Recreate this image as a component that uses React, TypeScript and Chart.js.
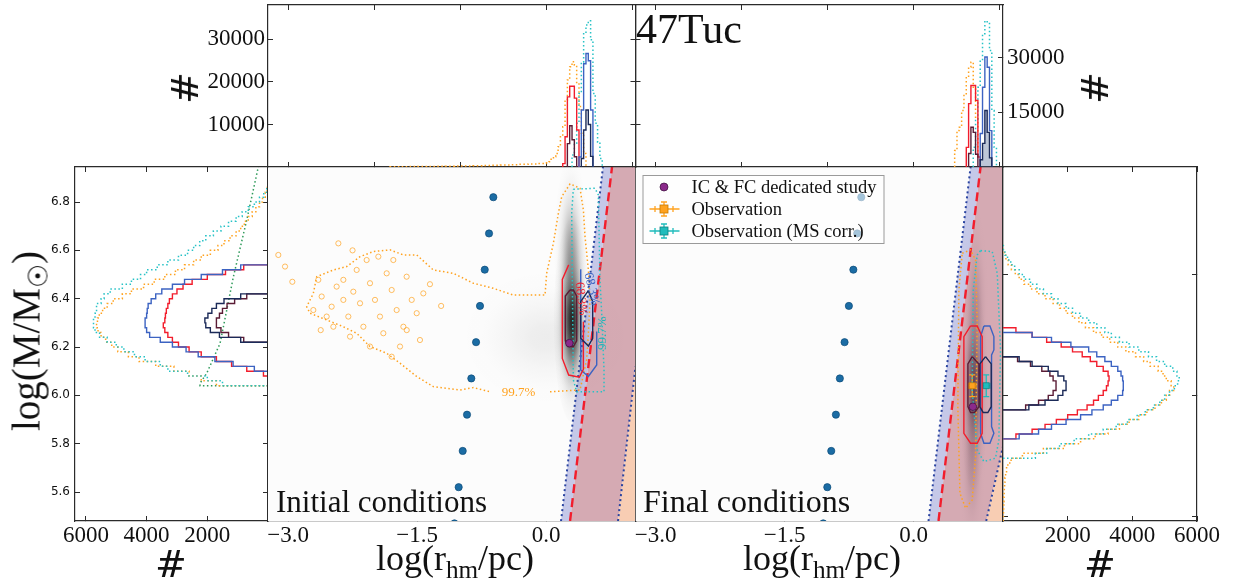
import React, { useEffect, useRef } from "react";
import { Chart, registerables } from "chart.js";

Chart.register(...registerables);

const W = 1239;
const H = 585;
const SERIF = "'Liberation Serif', 'DejaVu Serif', serif";
const SANS = "'DejaVu Sans', sans-serif";

/* ================= axis ranges & ticks ================= */
const rhmRange = [-3.233, 1.04];
const logMRange = [5.48, 6.945];
const topLRange = [0, 38100];
const topRRange = [0, 44500];
const sideLRange = [0, 6360];
const sideRRange = [0, 6000];

const rhmLabelTicks = [-3.0, -1.5, 0.0];
const rhmUnitTicks = [-3, -2, -1, 0, 1];
const logMFineTicks = [5.6, 5.8, 6.0, 6.2, 6.4, 6.6, 6.8];
const logMCoarseTicks = [5.5, 6.0, 6.5];
const topLTicks = [10000, 20000, 30000];
const topRTicks = [15000, 30000];
const sideCountTicks = [2000, 4000, 6000];

/* ================= top histograms: counts per bin of log(r_hm) ================= */
const histBinW = 0.027;
const topLOrangeTailStart = -1.814;
const topLOrangeTailW = 0.107;
const topLOrangeTail = [60, 80, 100, 120, 140, 170, 200, 230, 260, 300, 350, 400, 460, 530, 620, 720, 850];
const topLOrangeStart = 0.005;
const topLOrange = [1000, 1250, 1800, 2430, 3200, 4780, 7140, 9490, 15760, 20470, 23600, 24780, 24000, 19690, 14200, 7920, 3200];
const topLRedStart = 0.194;
const topLRed = [800, 7100, 16500, 19000, 19000, 16200, 8700];
const topLMaroonStart = 0.248;
const topLMaroon = [5500, 9700, 6400, 2400];
const topLCyanStart = 0.302;
const topLCyan = [2800, 5600, 10300, 17300, 24700, 31500, 33400, 34400, 29900, 17300, 10300, 5800, 2000];
const topLBlueStart = 0.383;
const topLBlue = [2350, 13400, 24300, 26700, 25000, 13400];
const topLNavyStart = 0.41;
const topLNavy = [2000, 8700, 13400, 10000, 2500];

const topROrangeStart = 0.478;
const topROrange = [4500, 10000, 10900, 15500, 20100, 24700, 27400, 28800, 21900, 13700, 2900];
const topRRedStart = 0.613;
const topRRed = [5400, 17400, 22400, 22400, 18300, 2750];
const topRMaroonStart = 0.64;
const topRMaroon = [3700, 10900, 9500, 3500];
const topRCyanStart = 0.694;
const topRCyan = [5400, 12800, 21900, 29300, 36600, 40100, 39400, 32000, 15500, 5400];
const topRBlueStart = 0.775;
const topRBlue = [9200, 21900, 30200, 27400, 10000];
const topRNavyStart = 0.775;
const topRNavy = [2000, 6500, 15500, 9500, 2500];

/* ================= side histograms: counts per bin of log(M) ================= */
const sideBinW = 0.02;
const sideLOrangeStart = 6.04;
const sideLOrange = [1700, 2200, 2600, 3100, 3700, 4250, 4600, 4950, 5150, 5350, 5500, 5600, 5650, 5620, 5560, 5450, 5300, 5100, 4800, 4500, 4100, 3750, 3400, 3050, 2750, 2450, 2200, 1900, 1650, 1450, 1250, 1050, 900, 780, 650, 520, 400, 280, 180, 90, 30];
const sideLCyanStart = 6.04;
const sideLCyan = [1500, 2000, 2650, 3300, 3550, 4050, 4400, 4750, 5000, 5300, 5550, 5700, 5750, 5750, 5700, 5650, 5650, 5500, 5400, 5200, 4800, 4500, 4200, 4000, 3650, 3300, 2950, 2650, 2450, 2250, 2050, 1800, 1550, 1300, 1050, 850, 650, 450, 280, 140, 40];
const sideLBlueStart = 6.1;
const sideLBlue = [450, 1150, 1750, 2300, 2700, 3150, 3550, 3900, 4000, 4050, 4050, 4000, 3980, 3950, 3850, 3700, 3500, 3150, 2750, 2200, 1500, 900];
const sideLRedStart = 6.08;
const sideLRed = [150, 700, 1200, 1700, 2200, 2600, 2950, 3150, 3300, 3400, 3450, 3400, 3380, 3350, 3300, 3250, 3150, 3000, 2800, 2500, 2000, 1400, 800];
const sideLNavyStart = 6.22;
const sideLNavy = [900, 1600, 1900, 2050, 2080, 1980, 1850, 1700, 1450, 900];
const sideLMaroonStart = 6.22;
const sideLMaroon = [800, 1300, 1550, 1700, 1700, 1600, 1500, 1350, 1100, 700];
const sideLGreenCounts = [250, 320, 700, 1140, 1580, 2020, 2240, 2240, 0];
const sideLGreenLogM = [7.0, 6.945, 6.726, 6.491, 6.215, 6.091, 6.05, 6.04, 6.04];

const sideROrangeStart = 5.48;
const sideROrange = [10, 15, 20, 25, 30, 35, 40, 50, 60, 80, 110, 150, 250, 600, 1250, 1900, 2400, 2850, 3250, 3600, 3900, 4200, 4450, 4700, 4900, 5050, 5150, 5280, 5200, 5050, 4950, 4800, 4550, 4350, 4100, 3800, 3550, 3300, 3050, 2800, 2550, 2350, 2150, 1950, 1750, 1550, 1300, 1050, 850, 650, 500, 380, 260, 160, 90, 40, 10];
const sideRCyanStart = 5.74;
const sideRCyan = [1000, 1350, 1750, 2200, 2650, 3100, 3500, 3850, 4150, 4400, 4650, 4850, 5000, 5150, 5300, 5400, 5450, 5380, 5250, 5000, 4750, 4500, 4200, 3900, 3600, 3350, 3150, 2900, 2650, 2400, 2150, 1950, 1700, 1500, 1250, 1050, 850, 650, 500, 360, 240, 140, 60, 10];
const sideRBlueStart = 5.82;
const sideRBlue = [500, 1100, 1500, 1950, 2400, 2750, 3100, 3350, 3550, 3700, 3720, 3720, 3700, 3650, 3550, 3350, 3150, 2900, 2650, 2100, 1500, 900];
const sideRRedStart = 5.82;
const sideRRed = [400, 900, 1300, 1650, 2000, 2300, 2600, 2800, 2950, 3100, 3200, 3250, 3280, 3250, 3100, 2900, 2700, 2450, 2150, 1800, 1350, 900, 400];
const sideRNavyStart = 5.94;
const sideRNavy = [800, 1300, 1700, 1850, 1950, 1950, 1880, 1700, 1400, 900, 500];
const sideRMaroonStart = 5.94;
const sideRMaroon = [700, 1100, 1400, 1550, 1640, 1640, 1550, 1450, 1200, 850, 450];

/* ================= main panels: grid of models (blue points) ================= */
const gridLogM = [6.82, 6.67, 6.52, 6.37, 6.22, 6.07, 5.92, 5.77, 5.62, 5.47];
const gridRhmIC = [-0.613, -0.663, -0.713, -0.768, -0.814, -0.869, -0.919, -0.969, -1.016, -1.065];
const gridRhmFC = [-0.608, -0.655, -0.7, -0.752, -0.802, -0.857, -0.903, -0.957, -1.003, -1.05];

/* dedicated study (IC and FC) */
const icRhm = [0.271];
const icLogM = [6.216];
const fcRhm = [0.69];
const fcLogM = [5.953];

/* observations */
const obsRhm = [0.682, 0.845];
const obsLogM = [6.04, 6.04];
const obsRhmErr = [0.043, 0.043];
const obsLogMErr = [0.045, 0.045];
const legendLabels = ["IC & FC dedicated study", "Observation", "Observation (MS corr.)"];

/* density limits (lines of constant density) */
const icBlueLoX = [0.174, 0.662];
const icBlueLoY = [5.48, 6.945];
const icRedX = [0.279, 0.767];
const icRedY = [5.48, 6.945];
const icBlueHiX = [0.837, 1.04];
const icBlueHiY = [5.48, 6.12];
const fcBlueLoX = [0.174, 0.663];
const fcBlueLoY = [5.48, 6.945];
const fcRedX = [0.29, 0.779];
const fcRedY = [5.48, 6.945];
const fcBlueHiX = [0.845, 1.047];
const fcBlueHiY = [5.48, 5.8];

/* density maps (gaussian components: centre, spread, amplitude) */
const icBlobX = [0.3, 0.29, 0.0];
const icBlobY = [6.31, 6.6, 6.24];
const icBlobSX = [0.07, 0.065, 0.35];
const icBlobSY = [0.14, 0.13, 0.1];
const icBlobAmp = [0.95, 0.38, 0.07];
const fcBlobX = [0.7, 0.72, 0.68];
const fcBlobY = [6.03, 6.35, 5.72];
const fcBlobSX = [0.055, 0.05, 0.05];
const fcBlobSY = [0.14, 0.14, 0.12];
const fcBlobAmp = [0.66, 0.22, 0.18];

/* contours, initial conditions */
const icRedCX = [0.263, 0.189, 0.189, 0.263, 0.387, 0.434, 0.434];
const icRedCY = [6.54, 6.48, 6.153, 6.084, 6.075, 6.108, 6.305];
const icMaroonCX = [0.279, 0.224, 0.224, 0.255, 0.317, 0.356, 0.356, 0.317, 0.279];
const icMaroonCY = [6.436, 6.411, 6.226, 6.202, 6.202, 6.226, 6.411, 6.436, 6.436];
const icNavyCX = [0.492, 0.403, 0.403, 0.492, 0.542, 0.542, 0.492];
const icNavyCY = [6.433, 6.388, 6.236, 6.204, 6.236, 6.388, 6.433];
const icBlueCX = [0.403, 0.403, 0.492, 0.589, 0.589];
const icBlueCY = [6.522, 6.105, 6.078, 6.126, 6.264];
const icCyanCX = [0.317, 0.569, 0.608, 0.627, 0.647, 0.674, 0.674, 0.356, 0.317, 0.31, 0.298, 0.317];
const icCyanCY = [6.853, 6.857, 6.829, 6.477, 6.339, 6.105, 6.015, 6.015, 6.064, 6.312, 6.753, 6.853];
const icOrangeCX = [0.046, 0.395, 0.472, 0.492, 0.511, 0.492, 0.453, 0.434, 0.395, 0.279, 0.182, 0.143, 0.085, 0.007, -0.012, -0.38, -0.613, -0.845, -1.078, -1.311, -1.504, -1.659, -1.814, -2.008, -2.163, -2.318, -2.473, -2.667, -2.706, -2.783, -2.745, -2.551, -2.357, -2.202, -2.047, -1.853, -1.698, -1.504, -1.311, -1.0, -0.845, -0.652];
const icOrangeCY = [6.015, 6.022, 6.147, 6.257, 6.395, 6.519, 6.657, 6.767, 6.857, 6.875, 6.822, 6.753, 6.629, 6.505, 6.415, 6.415, 6.443, 6.464, 6.505, 6.519, 6.581, 6.581, 6.602, 6.595, 6.574, 6.533, 6.519, 6.491, 6.422, 6.367, 6.34, 6.312, 6.284, 6.257, 6.202, 6.174, 6.133, 6.078, 6.036, 6.022, 6.032, 6.015];
/* small isolated 99.7% islands of the orange cloud */
const icIslandX = [-3.113, -3.035, -2.415, -2.648, -2.706, -2.609, -2.551, -2.493, -2.435, -2.357, -2.299, -2.241, -2.202, -2.163, -2.124, -2.086, -2.047, -1.989, -1.95, -1.931, -1.892, -1.853, -1.795, -1.776, -1.737, -1.698, -1.659, -1.621, -1.562, -1.504, -1.466, -1.427, -2.047, -1.795, -2.357, -2.473, -2.279, -2.95, -1.35, -1.22, -1.62, -2.62, -2.25];
const icIslandY = [6.581, 6.533, 6.629, 6.478, 6.353, 6.409, 6.326, 6.367, 6.45, 6.395, 6.326, 6.429, 6.519, 6.381, 6.284, 6.56, 6.464, 6.395, 6.574, 6.326, 6.257, 6.505, 6.436, 6.56, 6.353, 6.202, 6.284, 6.491, 6.395, 6.34, 6.229, 6.422, 6.202, 6.16, 6.478, 6.284, 6.243, 6.47, 6.46, 6.37, 6.27, 6.27, 6.6];
const icLabelText = ["99.7%", "68.3%", "68.3%", "99.7%"];
const icLabelX = [-0.32, 0.405, 0.53, 0.66];
const icLabelY = [6.012, 6.4, 6.44, 6.257];

/* contours, final conditions */
const fcRedCX = [0.663, 0.74, 0.798, 0.798, 0.74, 0.663, 0.585, 0.585, 0.663];
const fcRedCY = [6.287, 6.287, 6.243, 5.843, 5.802, 5.802, 5.843, 6.243, 6.287];
const fcBlueCX = [0.818, 0.888, 0.934, 0.934, 0.907, 0.907, 0.934, 0.888, 0.818, 0.779, 0.779, 0.818];
const fcBlueCY = [6.287, 6.287, 6.243, 6.188, 6.167, 5.871, 5.843, 5.802, 5.802, 5.843, 6.243, 6.287];
const fcMaroonCX = [0.682, 0.76, 0.76, 0.709, 0.663, 0.632, 0.632, 0.682];
const fcMaroonCY = [6.16, 6.13, 5.953, 5.929, 5.929, 5.953, 6.13, 6.16];
const fcNavyCX = [0.837, 0.903, 0.903, 0.864, 0.81, 0.771, 0.771, 0.837];
const fcNavyCY = [6.16, 6.13, 5.953, 5.929, 5.929, 5.953, 6.13, 6.16];
const fcOrangeCX = [0.566, 0.663, 0.721, 0.74, 0.721, 0.682, 0.605, 0.539, 0.515, 0.527, 0.566];
const fcOrangeCY = [6.588, 6.602, 6.56, 6.298, 5.747, 5.567, 5.533, 5.595, 5.953, 6.436, 6.588];
const fcCyanCX = [0.779, 0.915, 0.973, 1.011, 0.992, 0.953, 0.818, 0.74, 0.682, 0.694, 0.74, 0.779];
const fcCyanCY = [6.599, 6.595, 6.505, 6.188, 5.815, 5.74, 5.726, 5.774, 6.022, 6.436, 6.581, 6.599];

/* ================= styles ================= */
const C_ORANGE = "#ffa21f";
const C_CYAN = "#27c2c6";
const C_RED = "#f21d2c";
const C_BLUE = "#3c63c2";
const C_NAVY = "#1b2a58";
const C_MAROON = "#5a1c35";
const C_GREEN = "#2e9a5a";
const C_PTS = "#1b6ca4";
const C_PURPLE = "#8b2a8b";
const C_DENS = "#2a44a0";
const DOT = [1.5, 2.5];
const BAND_COLORS = ["#c5c8e8", "#d5aab3", "#f8cdb3"];

/* panel boxes in page pixels: [left, top, right, bottom] */
const BOX_TOPL = [268, 5, 635.5, 167];
const BOX_TOPR = [635.5, 5, 1003, 167];
const BOX_SIDEL = [75, 167, 268, 521];
const BOX_MAINL = [268, 167, 635.5, 521];
const BOX_MAINR = [635.5, 167, 1003, 521];
const BOX_SIDER = [1003, 167, 1197, 521];

/* ================= helpers ================= */
const zip = (xs: number[], ys: number[]) => xs.map((x, i) => ({ x, y: ys[i] }));

function steps(segs: any[], alongX: boolean) {
  const P = (b: number, c: number) => (alongX ? { x: b, y: c } : { x: c, y: b });
  const pts: any[] = [P(segs[0].start, 0)];
  segs.forEach((s) => {
    s.counts.forEach((c: number, i: number) => {
      pts.push(P(s.start + i * s.width, c));
      pts.push(P(s.start + (i + 1) * s.width, c));
    });
  });
  const last = segs[segs.length - 1];
  pts.push(P(last.start + last.counts.length * last.width, 0));
  return pts;
}
const seg = (start: number, width: number, counts: number[]) => ({ start, width, counts });

function lineDs(data: any[], color: string, o: any = {}) {
  return {
    data,
    showLine: true,
    borderColor: color,
    backgroundColor: o.bg || "transparent",
    borderWidth: o.w || 1.4,
    borderDash: o.dash || [],
    borderCapStyle: "butt",
    pointRadius: 0,
    pointHoverRadius: 0,
    fill: o.fill || false,
    tension: 0,
    order: o.order === undefined ? 5 : o.order,
  };
}
function pointDs(data: any[], fill: string, edge: string, o: any = {}) {
  return {
    data,
    showLine: false,
    pointRadius: o.r || 3.6,
    pointStyle: o.style || "circle",
    backgroundColor: fill,
    borderColor: edge,
    borderWidth: o.bw === undefined ? 0.7 : o.bw,
    order: o.order === undefined ? 0 : o.order,
  };
}

/* axis: space = pixels reserved for the tick labels outside the frame */
function ax(position: string, range: number[], ticks: number[], o: any = {}) {
  const horiz = position === "top" || position === "bottom";
  const space = o.space || 0;
  return {
    type: "linear",
    position,
    min: range[0],
    max: range[1],
    reverse: !!o.reverse,
    labelSpace: space,
    afterFit: (s: any) => {
      if (horiz) s.height = space;
      else s.width = space;
      s.paddingLeft = 0;
      s.paddingRight = 0;
      s.paddingTop = 0;
      s.paddingBottom = 0;
    },
    afterBuildTicks: (s: any) => {
      s.ticks = ticks.map((v) => ({ value: v }));
    },
    grid: {
      display: true,
      drawOnChartArea: false,
      drawTicks: true,
      tickLength: -5,
      color: "#2b2b2b",
      tickColor: "#2b2b2b",
      tickWidth: 1,
      lineWidth: 1,
    },
    border: { display: true, color: "#2b2b2b", width: 1.2 },
    ticks: {
      display: !!o.labels,
      autoSkip: false,
      maxRotation: 0,
      minRotation: 0,
      padding: o.pad === undefined ? 8 : o.pad,
      color: "#111",
      font: o.font || { family: SERIF, size: 23 },
      callback: (v: number) => (o.fmt ? o.fmt(v) : String(v)),
    },
  };
}
const fmtRhm = (v: number) => (v < 0 ? "\u2212" : "") + Math.abs(v).toFixed(1);
const fmtLogM = (v: number) => v.toFixed(1);

function panelPlugin(extra: any) {
  return {
    id: "panelExtra",
    beforeDatasetsDraw(chart: any) {
      const { ctx, chartArea: a } = chart;
      const sx = chart.scales.x;
      const sy = chart.scales.y;
      const px = (v: number) => sx.getPixelForValue(v);
      const py = (v: number) => sy.getPixelForValue(v);
      ctx.save();
      ctx.beginPath();
      ctx.rect(a.left, a.top, a.right - a.left, a.bottom - a.top);
      ctx.clip();
      if (extra.bg) {
        ctx.fillStyle = extra.bg;
        ctx.fillRect(a.left, a.top, a.right - a.left, a.bottom - a.top);
      }
      if (extra.bands) {
        const { l1, l2, l3 } = extra.bands;
        const yLo = sy.min - 0.2;
        const yHi = sy.max + 0.2;
        const far = sx.max + 5;
        const lx = (L: any, y: number) => L.x[0] + ((y - L.y[0]) * (L.x[1] - L.x[0])) / (L.y[1] - L.y[0]);
        const poly = (pts: number[][], col: string) => {
          ctx.beginPath();
          pts.forEach(([x, y], i) => (i ? ctx.lineTo(px(x), py(y)) : ctx.moveTo(px(x), py(y))));
          ctx.closePath();
          ctx.fillStyle = col;
          ctx.fill();
        };
        poly([[lx(l1, yLo), yLo], [lx(l1, yHi), yHi], [lx(l2, yHi), yHi], [lx(l2, yLo), yLo]], BAND_COLORS[0]);
        poly([[lx(l2, yLo), yLo], [lx(l2, yHi), yHi], [lx(l3, yHi), yHi], [lx(l3, yLo), yLo]], BAND_COLORS[1]);
        poly([[lx(l3, yLo), yLo], [lx(l3, yHi), yHi], [far, yHi], [far, yLo]], BAND_COLORS[2]);
      }
      if (extra.blobs) {
        const b = extra.blobs;
        b.x.forEach((bx: number, i: number) => {
          const cx = px(bx);
          const cy = py(b.y[i]);
          const rx = Math.abs(px(bx + b.sx[i]) - cx);
          const ry = Math.abs(py(b.y[i] + b.sy[i]) - cy);
          ctx.save();
          ctx.translate(cx, cy);
          ctx.scale(rx, ry);
          const g = ctx.createRadialGradient(0, 0, 0, 0, 0, 3);
          for (let k = 0; k <= 12; k++) {
            const r = (k / 12) * 3;
            g.addColorStop(k / 12, `rgba(${b.rgb},${(b.amp[i] * Math.exp((-r * r) / 2)).toFixed(4)})`);
          }
          ctx.fillStyle = g;
          ctx.beginPath();
          ctx.arc(0, 0, 3, 0, Math.PI * 2);
          ctx.fill();
          ctx.restore();
        });
      }
      if (extra.err) {
        const e = extra.err;
        e.x.forEach((ex: number, i: number) => {
          const cx = px(ex);
          const cy = py(e.y[i]);
          const x0 = px(ex - e.xe[i]);
          const x1 = px(ex + e.xe[i]);
          const y0 = py(e.y[i] - e.ye[i]);
          const y1 = py(e.y[i] + e.ye[i]);
          ctx.strokeStyle = e.colors[i];
          ctx.lineWidth = 1.3;
          ctx.beginPath();
          ctx.moveTo(x0, cy); ctx.lineTo(x1, cy);
          ctx.moveTo(cx, y0); ctx.lineTo(cx, y1);
          ctx.moveTo(x0, cy - 3); ctx.lineTo(x0, cy + 3);
          ctx.moveTo(x1, cy - 3); ctx.lineTo(x1, cy + 3);
          ctx.moveTo(cx - 3, y0); ctx.lineTo(cx + 3, y0);
          ctx.moveTo(cx - 3, y1); ctx.lineTo(cx + 3, y1);
          ctx.stroke();
        });
      }
      ctx.restore();
    },
    afterDatasetsDraw(chart: any) {
      const { ctx, chartArea: a } = chart;
      const sx = chart.scales.x;
      const sy = chart.scales.y;
      if (extra.labels) {
        const L = extra.labels;
        L.text.forEach((t: string, i: number) => {
          ctx.save();
          ctx.translate(sx.getPixelForValue(L.x[i]), sy.getPixelForValue(L.y[i]));
          ctx.rotate(L.rot[i]);
          ctx.font = `13px ${SERIF}`;
          ctx.fillStyle = L.colors[i];
          ctx.textAlign = "center";
          ctx.textBaseline = "middle";
          ctx.fillText(t, 0, 0);
          ctx.restore();
        });
      }
      if (extra.legend) {
        const L = a.left + 7;
        const T = a.top + 8;
        ctx.save();
        ctx.fillStyle = "rgba(255,255,255,0.6)";
        ctx.fillRect(L, T, 241, 68);
        ctx.strokeStyle = "#9a9a9a";
        ctx.lineWidth = 1;
        ctx.strokeRect(L + 0.5, T + 0.5, 241, 68);
        const mx = L + 21.5;
        const rows = [T + 12, T + 34, T + 56];
        ctx.beginPath();
        ctx.arc(mx, rows[0], 4, 0, Math.PI * 2);
        ctx.fillStyle = C_PURPLE;
        ctx.fill();
        ctx.strokeStyle = "#3a0c3a";
        ctx.lineWidth = 0.7;
        ctx.stroke();
        [[C_ORANGE, "#c77a00"], ["#1fbcbc", "#0f8080"]].forEach(([col, edge], k) => {
          const y = rows[k + 1];
          ctx.strokeStyle = col;
          ctx.lineWidth = 1.3;
          ctx.beginPath();
          ctx.moveTo(L + 7, y); ctx.lineTo(L + 37, y);
          ctx.moveTo(mx - 9, y - 3); ctx.lineTo(mx - 9, y + 3);
          ctx.moveTo(mx + 9, y - 3); ctx.lineTo(mx + 9, y + 3);
          ctx.moveTo(mx, y - 7); ctx.lineTo(mx, y + 7);
          ctx.moveTo(mx - 3, y - 7); ctx.lineTo(mx + 3, y - 7);
          ctx.moveTo(mx - 3, y + 7); ctx.lineTo(mx + 3, y + 7);
          ctx.stroke();
          ctx.fillStyle = col;
          ctx.fillRect(mx - 4, y - 4, 8, 8);
          ctx.strokeStyle = edge;
          ctx.lineWidth = 0.8;
          ctx.strokeRect(mx - 4, y - 4, 8, 8);
        });
        ctx.font = `18.5px ${SERIF}`;
        ctx.fillStyle = "#111";
        ctx.textAlign = "left";
        ctx.textBaseline = "middle";
        legendLabels.forEach((s, i) => ctx.fillText(s, L + 49, rows[i] + 1));
        ctx.restore();
      }
    },
  };
}

function build(canvas: any, box: number[], scales: any, datasets: any[], extra: any = {}) {
  const pad: any = { left: box[0], top: box[1], right: W - box[2], bottom: H - box[3] };
  Object.keys(scales).forEach((k) => {
    pad[scales[k].position] -= scales[k].labelSpace || 0;
  });
  return new Chart(canvas, {
    type: "scatter",
    data: { datasets },
    options: {
      responsive: false,
      maintainAspectRatio: false,
      animation: false,
      devicePixelRatio: 1,
      events: [],
      layout: { padding: pad },
      plugins: { legend: { display: false }, tooltip: { enabled: false }, title: { display: false } },
      scales,
    },
    plugins: [panelPlugin(extra)],
  } as any);
}

const dotted = (data: any[], color: string, order = 5) => lineDs(data, color, { dash: DOT, w: 1.5, order });

export default function App() {
  const rSideL = useRef<HTMLCanvasElement>(null);
  const rMainL = useRef<HTMLCanvasElement>(null);
  const rMainR = useRef<HTMLCanvasElement>(null);
  const rSideR = useRef<HTMLCanvasElement>(null);
  const rTopL = useRef<HTMLCanvasElement>(null);
  const rTopR = useRef<HTMLCanvasElement>(null);

  useEffect(() => {
    const charts: any[] = [];

    /* ---------- top-left histogram ---------- */
    charts.push(
      build(
        rTopL.current,
        BOX_TOPL,
        {
          x: ax("bottom", rhmRange, rhmUnitTicks),
          x2: ax("top", rhmRange, rhmUnitTicks),
          y: ax("left", topLRange, topLTicks, { labels: true, pad: 8, space: 90 }),
          y2: ax("right", topLRange, topLTicks),
        },
        [
          lineDs(steps([seg(topLNavyStart, histBinW, topLNavy)], true), C_NAVY, { order: 1 }),
          lineDs(steps([seg(topLMaroonStart, histBinW, topLMaroon)], true), C_MAROON, { order: 1 }),
          lineDs(steps([seg(topLBlueStart, histBinW, topLBlue)], true), C_BLUE, { order: 2 }),
          lineDs(steps([seg(topLRedStart, histBinW, topLRed)], true), C_RED, { order: 2 }),
          dotted(steps([seg(topLCyanStart, histBinW, topLCyan)], true), C_CYAN, 3),
          dotted(
            steps([seg(topLOrangeTailStart, topLOrangeTailW, topLOrangeTail), seg(topLOrangeStart, histBinW, topLOrange)], true),
            C_ORANGE,
            3
          ),
        ]
      )
    );

    /* ---------- top-right histogram ---------- */
    charts.push(
      build(
        rTopR.current,
        BOX_TOPR,
        {
          x: ax("bottom", rhmRange, rhmUnitTicks),
          x2: ax("top", rhmRange, rhmUnitTicks),
          y: ax("right", topRRange, topRTicks, { labels: true, pad: 9, space: 90 }),
          y2: ax("left", topLRange, topLTicks),
        },
        [
          lineDs(steps([seg(topRNavyStart, histBinW, topRNavy)], true), C_NAVY, { order: 1, fill: "origin", bg: "rgba(70,95,140,0.35)" }),
          lineDs(steps([seg(topRMaroonStart, histBinW, topRMaroon)], true), C_MAROON, { order: 1 }),
          lineDs(steps([seg(topRBlueStart, histBinW, topRBlue)], true), C_BLUE, { order: 2 }),
          lineDs(steps([seg(topRRedStart, histBinW, topRRed)], true), C_RED, { order: 2 }),
          dotted(steps([seg(topRCyanStart, histBinW, topRCyan)], true), C_CYAN, 3),
          dotted(steps([seg(topROrangeStart, histBinW, topROrange)], true), C_ORANGE, 3),
        ]
      )
    );

    /* ---------- left side histogram ---------- */
    charts.push(
      build(
        rSideL.current,
        BOX_SIDEL,
        {
          x: ax("bottom", sideLRange, sideCountTicks, { labels: true, pad: 6, reverse: true, space: 40 }),
          x2: ax("top", sideLRange, sideCountTicks, { reverse: true }),
          y: ax("left", logMRange, logMFineTicks, {
            labels: true,
            pad: 10,
            fmt: fmtLogM,
            font: { family: SANS, size: 12 },
            space: 40,
          }),
          y2: ax("right", logMRange, logMFineTicks),
        },
        [
          lineDs(steps([seg(sideLNavyStart, sideBinW, sideLNavy)], false), C_NAVY, { order: 1 }),
          lineDs(steps([seg(sideLMaroonStart, sideBinW, sideLMaroon)], false), C_MAROON, { order: 1 }),
          lineDs(steps([seg(sideLBlueStart, sideBinW, sideLBlue)], false), C_BLUE, { order: 2 }),
          lineDs(steps([seg(sideLRedStart, sideBinW, sideLRed)], false), C_RED, { order: 2 }),
          dotted(steps([seg(sideLCyanStart, sideBinW, sideLCyan)], false), C_CYAN, 3),
          dotted(steps([seg(sideLOrangeStart, sideBinW, sideLOrange)], false), C_ORANGE, 3),
          dotted(zip(sideLGreenCounts, sideLGreenLogM), C_GREEN, 4),
        ]
      )
    );

    /* ---------- right side histogram ---------- */
    charts.push(
      build(
        rSideR.current,
        BOX_SIDER,
        {
          x: ax("bottom", sideRRange, sideCountTicks, { labels: true, pad: 6, space: 40 }),
          x2: ax("top", sideRRange, sideCountTicks),
          y: ax("left", logMRange, logMCoarseTicks),
          y2: ax("right", logMRange, logMCoarseTicks),
        },
        [
          lineDs(steps([seg(sideRNavyStart, sideBinW, sideRNavy)], false), C_NAVY, { order: 1 }),
          lineDs(steps([seg(sideRMaroonStart, sideBinW, sideRMaroon)], false), C_MAROON, { order: 1 }),
          lineDs(steps([seg(sideRBlueStart, sideBinW, sideRBlue)], false), C_BLUE, { order: 2 }),
          lineDs(steps([seg(sideRRedStart, sideBinW, sideRRed)], false), C_RED, { order: 2 }),
          dotted(steps([seg(sideRCyanStart, sideBinW, sideRCyan)], false), C_CYAN, 3),
          dotted(steps([seg(sideROrangeStart, sideBinW, sideROrange)], false), C_ORANGE, 3),
        ]
      )
    );

    /* ---------- main panel: initial conditions ---------- */
    charts.push(
      build(
        rMainL.current,
        BOX_MAINL,
        {
          x: ax("bottom", rhmRange, rhmLabelTicks, { labels: true, pad: 6, fmt: fmtRhm, space: 40 }),
          x2: ax("top", rhmRange, rhmLabelTicks),
          y: ax("left", logMRange, logMFineTicks),
          y2: ax("right", logMRange, logMCoarseTicks),
        },
        [
          pointDs(zip(icRhm, icLogM), C_PURPLE, "#3a0c3a", { r: 3.8, order: 0 }),
          pointDs(zip(gridRhmIC, gridLogM), C_PTS, "#0d4a78", { order: 0 }),
          lineDs(zip(icMaroonCX, icMaroonCY), C_MAROON, { order: 2 }),
          lineDs(zip(icNavyCX, icNavyCY), C_NAVY, { order: 2 }),
          lineDs(zip(icRedCX, icRedCY), C_RED, { order: 3 }),
          lineDs(zip(icBlueCX, icBlueCY), C_BLUE, { order: 3 }),
          dotted(zip(icCyanCX, icCyanCY), C_CYAN, 4),
          dotted(zip(icOrangeCX, icOrangeCY), C_ORANGE, 4),
          pointDs(zip(icIslandX, icIslandY), "transparent", "rgba(255,162,31,0.7)", { r: 2.6, bw: 1, order: 4 }),
          lineDs(zip(icRedX, icRedY), C_RED, { dash: [9, 5], w: 2.4, order: 6 }),
          lineDs(zip(icBlueLoX, icBlueLoY), C_DENS, { dash: [2, 3], w: 2, order: 6 }),
          lineDs(zip(icBlueHiX, icBlueHiY), C_DENS, { dash: [2, 3], w: 2, order: 6 }),
        ],
        {
          bg: "#fcfcfc",
          bands: { l1: { x: icBlueLoX, y: icBlueLoY }, l2: { x: icRedX, y: icRedY }, l3: { x: icBlueHiX, y: icBlueHiY } },
          blobs: { x: icBlobX, y: icBlobY, sx: icBlobSX, sy: icBlobSY, amp: icBlobAmp, rgb: "30,30,30" },
          labels: {
            text: icLabelText,
            x: icLabelX,
            y: icLabelY,
            colors: [C_ORANGE, C_RED, C_BLUE, "#1fb5b8"],
            rot: [0, 1.45, 1.35, -Math.PI / 2],
          },
        }
      )
    );

    /* ---------- main panel: final conditions ---------- */
    charts.push(
      build(
        rMainR.current,
        BOX_MAINR,
        {
          x: ax("bottom", rhmRange, rhmLabelTicks, { labels: true, pad: 6, fmt: fmtRhm, space: 40 }),
          x2: ax("top", rhmRange, rhmLabelTicks),
          y: ax("left", logMRange, logMCoarseTicks),
          y2: ax("right", logMRange, logMCoarseTicks),
        },
        [
          pointDs(zip(obsRhm.slice(0, 1), obsLogM.slice(0, 1)), C_ORANGE, "#c77a00", { r: 4.2, style: "rect", order: 0 }),
          pointDs(zip(obsRhm.slice(1), obsLogM.slice(1)), "#1fbcbc", "#0f8080", { r: 4.2, style: "rect", order: 0 }),
          pointDs(zip(fcRhm, fcLogM), C_PURPLE, "#3a0c3a", { r: 3.8, order: 0 }),
          pointDs(zip(gridRhmFC, gridLogM), C_PTS, "#0d4a78", { order: 0 }),
          lineDs(zip(fcMaroonCX, fcMaroonCY), C_MAROON, { order: 2 }),
          lineDs(zip(fcNavyCX, fcNavyCY), C_NAVY, { order: 2 }),
          lineDs(zip(fcRedCX, fcRedCY), C_RED, { order: 3 }),
          lineDs(zip(fcBlueCX, fcBlueCY), C_BLUE, { order: 3 }),
          dotted(zip(fcCyanCX, fcCyanCY), C_CYAN, 4),
          dotted(zip(fcOrangeCX, fcOrangeCY), C_ORANGE, 4),
          lineDs(zip(fcRedX, fcRedY), C_RED, { dash: [9, 5], w: 2.4, order: 6 }),
          lineDs(zip(fcBlueLoX, fcBlueLoY), C_DENS, { dash: [2, 3], w: 2, order: 6 }),
          lineDs(zip(fcBlueHiX, fcBlueHiY), C_DENS, { dash: [2, 3], w: 2, order: 6 }),
        ],
        {
          bg: "#fcfcfc",
          bands: { l1: { x: fcBlueLoX, y: fcBlueLoY }, l2: { x: fcRedX, y: fcRedY }, l3: { x: fcBlueHiX, y: fcBlueHiY } },
          blobs: { x: fcBlobX, y: fcBlobY, sx: fcBlobSX, sy: fcBlobSY, amp: fcBlobAmp, rgb: "45,22,38" },
          err: { x: obsRhm, y: obsLogM, xe: obsRhmErr, ye: obsLogMErr, colors: [C_ORANGE, "#1fbcbc"] },
          legend: true,
        }
      )
    );

    return () => charts.forEach((c) => c.destroy());
  }, []);

  const cv: React.CSSProperties = { position: "absolute", left: 0, top: 0 };
  const t = (s: React.CSSProperties): React.CSSProperties => ({
    position: "absolute",
    whiteSpace: "nowrap",
    lineHeight: 1,
    color: "#111",
    fontFamily: SERIF,
    ...s,
  });
  const sub: React.CSSProperties = { fontSize: "0.7em", verticalAlign: "-0.3em", lineHeight: 0 };
  const hashS = (x: number, y: number, rot: boolean): React.CSSProperties =>
    t({
      left: x,
      top: y,
      fontSize: 38,
      fontFamily: "'DejaVu Serif', serif",
      transform: `translate(-50%,-50%)${rot ? " rotate(-90deg)" : ""}`,
    });

  return (
    <div style={{ position: "absolute", left: 0, top: 0, width: W, height: H, background: "#fff", overflow: "hidden" }}>
      <canvas ref={rSideL} width={W} height={H} style={cv} />
      <canvas ref={rMainL} width={W} height={H} style={cv} />
      <canvas ref={rMainR} width={W} height={H} style={cv} />
      <canvas ref={rSideR} width={W} height={H} style={cv} />
      <canvas ref={rTopL} width={W} height={H} style={cv} />
      <canvas ref={rTopR} width={W} height={H} style={cv} />

      <div style={t({ left: 26, top: 341, fontSize: 39, transform: "translate(-50%,-50%) rotate(-90deg)" })}>
        log(M/M<sub style={sub}>☉</sub>)
      </div>
      <div style={t({ left: 455, top: 540, fontSize: 36, transform: "translateX(-50%)" })}>
        log(r<sub style={sub}>hm</sub>/pc)
      </div>
      <div style={t({ left: 822, top: 540, fontSize: 36, transform: "translateX(-50%)" })}>
        log(r<sub style={sub}>hm</sub>/pc)
      </div>
      <div style={hashS(171, 564, false)}>#</div>
      <div style={hashS(1100, 564, false)}>#</div>
      <div style={hashS(185, 88, true)}>#</div>
      <div style={hashS(1095, 88, true)}>#</div>
      <div style={t({ left: 636, top: 8, fontSize: 42 })}>47Tuc</div>
      <div style={t({ left: 276, top: 486, fontSize: 31 })}>Initial conditions</div>
      <div style={t({ left: 643, top: 485, fontSize: 32 })}>Final conditions</div>
    </div>
  );
}
